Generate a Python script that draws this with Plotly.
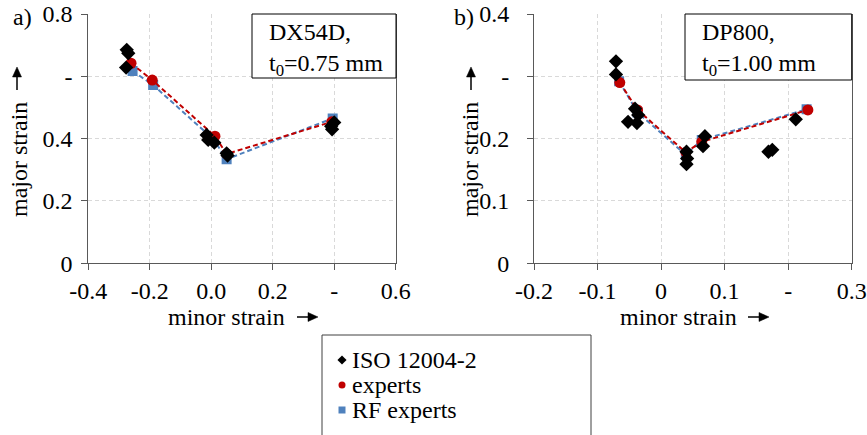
import plotly.graph_objects as go

# ---- data: forming limit points (minor strain, major strain) ----
# DX54D, t0 = 0.75 mm
dx_iso_minor = [-0.275, -0.270, -0.277, -0.015, -0.010, 0.010, 0.050, 0.053, 0.390, 0.393, 0.400]
dx_iso_major = [0.685, 0.674, 0.628, 0.412, 0.396, 0.387, 0.353, 0.346, 0.440, 0.430, 0.452]
dx_exp_minor = [-0.261, -0.192, 0.012, 0.050, 0.392]
dx_exp_major = [0.642, 0.588, 0.408, 0.351, 0.454]
dx_rf_minor = [-0.256, -0.189, 0.007, 0.050, 0.395]
dx_rf_major = [0.617, 0.572, 0.398, 0.334, 0.465]

# DP800, t0 = 1.00 mm
dp_iso_minor = [-0.071, -0.071, -0.041, -0.052, -0.038, -0.036, 0.040, 0.041, 0.040,
                0.066, 0.069, 0.169, 0.175, 0.212]
dp_iso_major = [0.324, 0.303, 0.248, 0.227, 0.225, 0.238, 0.179, 0.168, 0.159,
                0.188, 0.204, 0.179, 0.182, 0.231]
dp_exp_minor = [-0.065, -0.037, 0.039, 0.064, 0.231]
dp_exp_major = [0.290, 0.246, 0.178, 0.195, 0.246]
dp_rf_minor = [-0.066, -0.037, 0.039, 0.064, 0.229]
dp_rf_major = [0.292, 0.242, 0.174, 0.198, 0.247]

# axis ticks
dx_xticks = [-0.4, -0.2, 0.0, 0.2, 0.4, 0.6]
dx_xtext = ["-0.4", "-0.2", "0.0", "0.2", "-", "0.6"]
dx_yticks = [0.0, 0.2, 0.4, 0.6, 0.8]
dx_ytext = ["0", "0.2", "0.4", "-", "0.8"]
dp_xticks = [-0.2, -0.1, 0.0, 0.1, 0.2, 0.3]
dp_xtext = ["-0.2", "-0.1", "0", "0.1", "-", "0.3"]
dp_yticks = [0.0, 0.1, 0.2, 0.3, 0.4]
dp_ytext = ["0", "0.1", "0.2", "-", "0.4"]

# legend rows
legend_labels = ["ISO 12004-2", "experts", "RF experts"]
legend_symbols = ["diamond", "circle", "square"]

W, H = 867, 435
FONT = '"Liberation Serif", "Times New Roman", Times, serif'
FS = 24
RED = "#C00000"
BLUE = "#4F81BD"
AXC = "#595959"
legend_colors = ["black", RED, BLUE]


def px(x):
    return x / W


def py(y):
    return 1 - y / H


fig = go.Figure()


def add_panel(xa, ya, iso_x, iso_y, exp_x, exp_y, rf_x, rf_y):
    fig.add_trace(go.Scatter(x=rf_x, y=rf_y, mode="lines+markers", xaxis=xa, yaxis=ya,
                             line=dict(color=BLUE, width=2, dash="5px,3px"),
                             marker=dict(symbol="square", size=10, color=BLUE),
                             name="RF experts", showlegend=False))
    fig.add_trace(go.Scatter(x=exp_x, y=exp_y, mode="lines+markers", xaxis=xa, yaxis=ya,
                             line=dict(color=RED, width=2, dash="5px,3px"),
                             marker=dict(symbol="circle", size=11, color=RED),
                             name="experts", showlegend=False))
    fig.add_trace(go.Scatter(x=iso_x, y=iso_y, mode="markers", xaxis=xa, yaxis=ya,
                             marker=dict(symbol="diamond", size=11, color="black"),
                             name="ISO 12004-2", showlegend=False))


add_panel("x", "y", dx_iso_minor, dx_iso_major, dx_exp_minor, dx_exp_major, dx_rf_minor, dx_rf_major)
add_panel("x2", "y2", dp_iso_minor, dp_iso_major, dp_exp_minor, dp_exp_major, dp_rf_minor, dp_rf_major)

# legend symbols on a hidden helper axis laid over the legend frame (units: px from frame corner)
row_y = [25 * (i + 1) for i in range(len(legend_labels))]
fig.add_trace(go.Scatter(x=[20] * len(legend_labels), y=row_y, mode="markers",
                         xaxis="x3", yaxis="y3", hoverinfo="skip", showlegend=False,
                         marker=dict(symbol=legend_symbols, size=7, color=legend_colors)))

axis_common = dict(showline=True, linecolor=AXC, linewidth=1, ticks="outside", ticklen=6,
                   tickcolor=AXC, showgrid=True, gridcolor="#D9D9D9", griddash="4px,3px",
                   gridwidth=1, zeroline=False, automargin=False,
                   tickfont=dict(family=FONT, size=FS, color="black"),
                   tickmode="array")
hidden = dict(visible=False, showgrid=False, zeroline=False, automargin=False, fixedrange=True)

ydom = [py(263.3), py(14)]
fig.update_layout(
    xaxis=dict(axis_common, domain=[px(88.3), px(395.7)], range=[-0.4, 0.6],
               tickvals=dx_xticks, ticktext=dx_xtext, anchor="y"),
    yaxis=dict(axis_common, domain=ydom, range=[0, 0.8], tickvals=dx_yticks,
               ticktext=dx_ytext, anchor="x", mirror=True, ticklabelstandoff=4),
    xaxis2=dict(axis_common, domain=[px(534), px(851.7)], range=[-0.2, 0.3],
                tickvals=dp_xticks, ticktext=dp_xtext, anchor="y2"),
    yaxis2=dict(axis_common, domain=ydom, range=[0, 0.4], tickvals=dp_yticks,
                ticktext=dp_ytext, anchor="x2", mirror=True, ticklabelstandoff=13),
    xaxis3=dict(hidden, domain=[px(322), px(591)], range=[0, 269], anchor="y3"),
    yaxis3=dict(hidden, domain=[0, py(335)], range=[100, 0], anchor="x3"),
)

shapes = []
annotations = []
tfont = dict(family=FONT, size=FS, color="black")

# material info boxes
for (x0, x1, y1, tx, txt) in [(252, 396, 78, 267, "DX54D,<br>t<sub>0</sub>=0.75 mm"),
                              (685, 851.7, 80, 700, "DP800,<br>t<sub>0</sub>=1.00 mm")]:
    shapes.append(dict(type="rect", xref="paper", yref="paper", x0=px(x0), x1=px(x1),
                       y0=py(y1), y1=py(14), line=dict(color="black", width=1),
                       fillcolor="white", layer="above"))
    annotations.append(dict(xref="paper", yref="paper", x=px(tx), y=py(17), xanchor="left",
                            yanchor="top", align="left", showarrow=False, text=txt, font=tfont))

# legend frame and labels
shapes.append(dict(type="rect", xref="paper", yref="paper", x0=px(322), x1=px(591),
                   y0=-0.1, y1=py(335), line=dict(color="#404040", width=1)))
for lbl, ry in zip(legend_labels, row_y):
    annotations.append(dict(xref="x3", yref="y3", x=28, y=ry, xanchor="left", yanchor="middle",
                            text=lbl, showarrow=False, font=tfont))

# panel letters
annotations.append(dict(xref="paper", yref="paper", x=px(11), y=py(17), xanchor="left",
                        yanchor="middle", text="a)", showarrow=False, font=tfont))
annotations.append(dict(xref="paper", yref="paper", x=px(452), y=py(17), xanchor="left",
                        yanchor="middle", text="b)", showarrow=False, font=tfont))


def arrow(tail, tip, head_len=10, half_w=4.5):
    """Thin shaft with a filled triangular head, in pixel coordinates."""
    (x0, y0), (x1, y1) = tail, tip
    dx, dy = x1 - x0, y1 - y0
    n = (dx * dx + dy * dy) ** 0.5
    ux, uy = dx / n, dy / n
    bx, by = x1 - ux * head_len, y1 - uy * head_len
    shapes.append(dict(type="line", xref="paper", yref="paper", x0=px(x0), y0=py(y0),
                       x1=px(bx + ux), y1=py(by + uy), line=dict(color="black", width=1.5)))
    pts = [(x1, y1), (bx - uy * half_w, by + ux * half_w), (bx + uy * half_w, by - ux * half_w)]
    path = "M " + " L ".join(f"{px(a):.5f},{py(b):.5f}" for a, b in pts) + " Z"
    shapes.append(dict(type="path", xref="paper", yref="paper", path=path,
                       fillcolor="black", line=dict(color="black", width=0.5)))


# axis titles with arrows
for (xc, xa_) in [(19, 17), (470, 471)]:
    annotations.append(dict(xref="paper", yref="paper", x=px(xc), y=py(160), textangle=-90,
                            text="major strain", showarrow=False, font=tfont,
                            xanchor="center", yanchor="middle"))
    arrow((xa_, 90), (xa_, 67))
for (xc, ah) in [(227, 318), (678, 769)]:
    annotations.append(dict(xref="paper", yref="paper", x=px(xc), y=py(317),
                            text="minor strain", showarrow=False, font=tfont,
                            xanchor="center", yanchor="middle"))
    arrow((ah - 21, 317), (ah, 317))

fig.update_layout(
    width=W, height=H, margin=dict(l=0, r=0, t=0, b=0),
    paper_bgcolor="white", plot_bgcolor="white",
    font=dict(family=FONT, size=FS, color="black"),
    shapes=shapes, annotations=annotations,
    showlegend=False,
)

fig.write_html("out.html")
